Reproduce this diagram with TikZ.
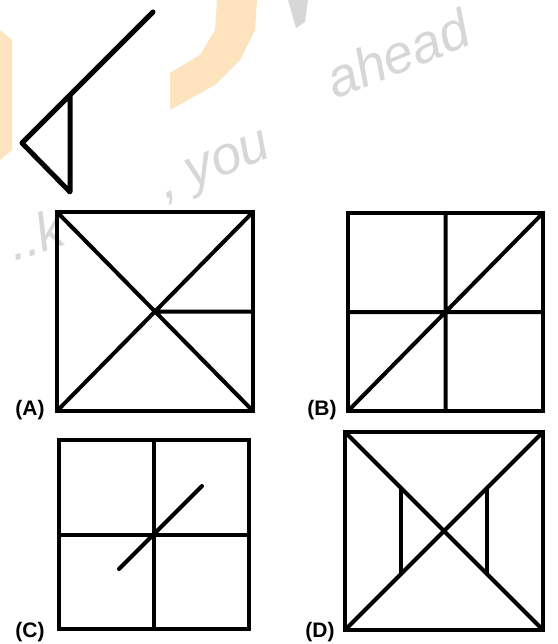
\documentclass[tikz,border=0pt]{standalone}
\usepackage{fontspec}
\setmainfont{Liberation Sans}
\definecolor{wmorange}{RGB}{253,228,190}
\definecolor{wmgrey}{RGB}{215,215,215}
\begin{document}
\begin{tikzpicture}[x=1pt,y=-1pt,
  fig/.style={line width=4pt, line cap=round, line join=miter},
  topfig/.style={line width=5pt, line cap=round, line join=round},
  lbl/.style={font=\fontsize{21}{24}\selectfont\bfseries, inner sep=0pt},
  wm/.style={font=\fontsize{54}{60}\selectfont\itshape, text=wmgrey, inner sep=0pt}]
\useasboundingbox (0,0) rectangle (557,644);
\fill[white] (0,0) rectangle (557,644);
% watermark
\fill[wmorange] (217,0) -- (257,0) -- (255,30) -- (240,60) -- (215,85) -- (170,110) -- (170,73) -- (200,55) -- (215,30) -- cycle;
\fill[wmorange] (0,30) -- (12,40) -- (12,150) -- (0,160) -- cycle;
\fill[wmgrey] (288,0) -- (308,0) -- (305,22) -- (296,28) -- cycle;
\node[wm, rotate=22, anchor=base west] (wm1) at (165,200) {, you};
\node[wm, rotate=22, anchor=base west] (wm2) at (335,100) {ahead};
\node[wm, rotate=18, anchor=base west] (wm3) at (14,262) {..k};
% question figure
\coordinate (t1) at (153,12);
\coordinate (t2) at (22,143);
\coordinate (t3) at (70,95);
\coordinate (t4) at (70,192);
\draw[topfig] (t1) -- (t2) -- (t4) -- (t3);
% (A)
\coordinate (a1) at (57,212); \coordinate (a2) at (253,212);
\coordinate (a3) at (253,411); \coordinate (a4) at (57,411);
\coordinate (ac) at (155,311.5); \coordinate (ar) at (253,311.5);
\draw[fig] (a1) rectangle (a3);
\draw[fig] (a1) -- (a3) (a4) -- (a2) (ac) -- (ar);
\node[lbl] (la) at (30,410) {(A)};
% (B)
\coordinate (b1) at (348,213); \coordinate (b3) at (543,411);
\coordinate (b2) at (543,213); \coordinate (b4) at (348,411);
\draw[fig] (b1) rectangle (b3);
\draw[fig] (b4) -- (b2) (445.5,213) -- (445.5,411) (348,312) -- (543,312);
\node[lbl] (lb) at (322,410) {(B)};
% (C)
\coordinate (c1) at (59,440); \coordinate (c3) at (249,629);
\draw[fig] (c1) rectangle (c3);
\draw[fig] (154,440) -- (154,629) (59,535) -- (249,535);
\coordinate (cd1) at (119,569); \coordinate (cd2) at (202,486);
\draw[fig] (cd1) -- (cd2);
\node[lbl] (lc) at (30,632) {(C)};
% (D)
\coordinate (d1) at (345,432); \coordinate (d2) at (543,432);
\coordinate (d3) at (543,630); \coordinate (d4) at (345,630);
\draw[fig] (d1) rectangle (d3);
\draw[fig] (d1) -- (d3) (d4) -- (d2);
\draw[fig] (401,488) -- (401,574) (487,488) -- (487,574);
\node[lbl] (ld) at (320,632) {(D)};
\end{tikzpicture}
\end{document}
